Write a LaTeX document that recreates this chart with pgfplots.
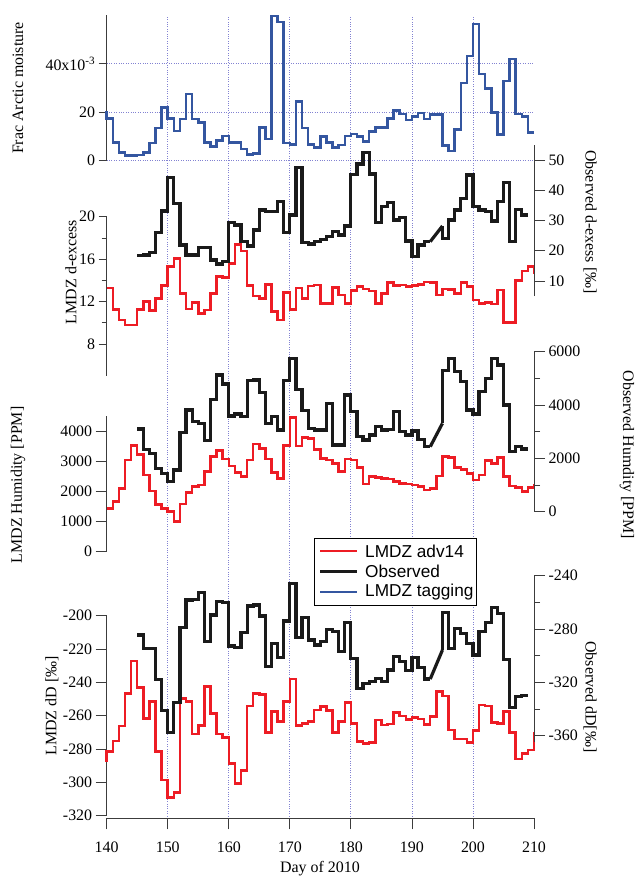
\documentclass[border=0pt]{standalone}
\usepackage{pgfplots}
\pgfplotsset{compat=1.18}
\usepackage{fontspec}
\setmainfont{Liberation Serif}
\setsansfont{Liberation Sans}
\definecolor{cred}{RGB}{237,28,36}
\definecolor{cblue}{RGB}{52,86,160}
\definecolor{cblack}{RGB}{26,26,26}
\definecolor{cgrid}{RGB}{130,130,210}
\definecolor{caxis}{RGB}{60,60,60}
\pgfplotsset{
 base/.style={scale only axis, width=427.3bp, xmin=140, xmax=210, clip=false, anchor=south west,
   /pgf/number format/assume math mode=true, /pgf/number format/1000 sep={},
   tick label style={font=\fontsize{16}{16}\selectfont},
   axis line style={caxis, line width=0.8bp}, tick style={caxis, line width=0.8bp}, tick align=outside,
   major tick length=11bp, minor tick length=6bp},
 redl/.style={const plot, cred, line width=2.5bp, line join=miter},
 blackl/.style={const plot, cblack, line width=3.2bp, line join=miter},
 blackd/.style={sharp plot, cblack, line width=3.2bp},
 bluel/.style={const plot, cblue, line width=2.5bp, line join=miter},
}
\begin{document}
\begin{tikzpicture}
\useasboundingbox (0,0) rectangle (637bp,877bp);
% vertical grid
\begin{axis}[base, at={(106.7bp,58.7bp)}, height=803.3bp, ymin=0, ymax=1,
  axis line style={draw=none}, xtick={150,160,...,200}, xticklabels={}, ytick=\empty,
  major tick length=0pt, xmajorgrids, major grid style={cgrid, dotted, line width=0.8bp}]
\end{axis}
% x axis
\begin{axis}[base, at={(106.7bp,58.7bp)}, height=10bp, ymin=0, ymax=1,
  axis x line*=bottom, axis y line=none, xtick={140,150,...,210},
  xticklabel style={yshift=-9bp}]
\end{axis}
% panel 1 blue
\begin{axis}[base, at={(106.7bp,716.3bp)}, height=145.2bp, ymin=0, ymax=60,
  axis x line=none, axis y line*=left, ytick={0,20,40}, yticklabels={0,20,{40x10\textsuperscript{-3}}},
  major tick length=8bp,
  ymajorgrids, major grid style={cgrid, dotted, line width=0.8bp}]
\addplot[bluel] coordinates {(140,20.5)(140,17.5)(141,7.6)(142,3.3)(143,2.1)(144,2.1)(145,2.3)(146,3.3)(147,7.4)(148,13.6)(149,21.9)(150,17.5)(151,12.3)(152,17.2)(153,27.5)(154,17.2)(155,15.8)(156,7.6)(157,5.8)(158,8.3)(159,10.3)(160,7.6)(161,7.6)(162,4.8)(163,2.6)(164,3.0)(165,13.8)(166,9.0)(167,59.8)(168,57.4)(169,7.4)(170,6.7)(171,24.4)(172,13.6)(173,6.7)(174,5.5)(175,9.9)(176,7.6)(177,5.5)(178,6.5)(179,10.3)(180,11.0)(181,9.9)(182,7.9)(183,12.0)(184,13.8)(185,13.8)(186,17.5)(187,20.7)(188,19.3)(189,16.8)(190,18.2)(191,19.8)(192,17.2)(193,19.1)(194,19.1)(195,6.2)(196,4.0)(197,12.9)(198,32.2)(199,43.3)(200,56.5)(201,35.8)(202,29.9)(203,20.0)(204,10.9)(205,32.9)(206,42.0)(207,19.3)(208,18.2)(209,11.6)(210,11.6)};
\end{axis}
% panel 2 left red
\begin{axis}[base, at={(106.7bp,501.1bp)}, height=159.2bp, ymin=5, ymax=20,
  axis x line=none, axis y line*=left, ytick={8,12,16,20}, minor y tick num=1,
  major tick length=8bp, minor tick length=5bp]
\addplot[redl] coordinates {(140,13.3)(141,11.27)(142,10.26)(143,9.79)(144,9.79)(145,11.27)(146,11.99)(147,11.14)(148,12.3)(149,13.5)(150,15.29)(151,16.07)(152,12.77)(153,11.3)(154,11.93)(155,10.89)(156,11.2)(157,12.77)(158,14.35)(159,14.28)(160,15.6)(161,17.39)(162,16.76)(163,13.5)(164,12.55)(165,12.3)(166,13.62)(167,11.05)(168,10.26)(169,12.87)(170,11.27)(171,13.3)(172,12.3)(173,13.45)(174,13.56)(175,11.83)(176,11.83)(177,13.34)(178,12.62)(179,11.83)(180,13.03)(181,13.4)(182,13.18)(183,13.0)(184,11.83)(185,12.77)(186,13.78)(187,13.5)(188,13.56)(189,13.4)(190,13.5)(191,13.62)(192,13.87)(193,13.78)(194,12.62)(195,13.18)(196,13.15)(197,12.77)(198,13.81)(199,13.4)(200,12.15)(201,11.83)(202,11.93)(203,11.77)(204,13.09)(205,10.04)(206,10.04)(207,13.97)(208,14.88)(209,15.29)(210,14.56)};
\end{axis}
% panel 2 right black
\begin{axis}[base, at={(106.7bp,580.9bp)}, height=151.25bp, ymin=5, ymax=55,
  axis x line=none, axis y line*=right, ytick={10,20,...,50}]
\addplot[blackl] coordinates {(145,18.38)(146,18.6)(147,19.48)(148,26.09)(149,33.14)(150,44.27)(151,35.67)(152,21.9)(153,18.6)(154,18.6)(155,21.13)(156,21.13)(157,16.94)(158,15.62)(159,16.39)(160,29.39)(161,28.51)(162,23.0)(163,21.57)(164,26.86)(165,33.47)(166,32.92)(167,32.92)(168,36.23)(169,26.09)(170,31.82)(171,47.58)(172,22.67)(173,22.23)(174,23.0)(175,23.77)(176,24.65)(177,26.3)(178,25.2)(179,28.18)(180,45.26)(181,48.68)(182,52.5)(183,45.37)(184,29.4)(185,34.57)(186,35.9)(187,30.17)(188,31.05)(189,23.22)(190,18.04)(191,21.9)(192,23.0)(193,23.0)};
\addplot[blackd] coordinates {(193,23.0)(195,28.18)};
\addplot[blackl] coordinates {(195,28.18)(195,24.1)(196,30.17)(197,33.47)(198,37.33)(199,45.04)(200,34.57)(201,33.47)(202,32.92)(203,29.83)(204,36.23)(205,42.62)(206,23.0)(207,33.69)(208,31.82)(209,31.82)};
\end{axis}
% panel 3 left red
\begin{axis}[base, at={(106.7bp,325.3bp)}, height=135.7bp, ymin=0, ymax=4500,
  axis x line=none, axis y line*=left, ytick={0,1000,...,4000}, scaled y ticks=false]
\addplot[redl] coordinates {(140,1437)(141,1658)(142,2100)(143,3039)(144,3514)(145,3227)(146,2542)(147,2011)(148,1569)(149,1437)(150,1326)(151,995)(152,1580)(153,1967)(154,2155)(155,2210)(156,2652)(157,3149)(158,3348)(159,3072)(160,2840)(161,2619)(162,2486)(163,3039)(164,3569)(165,3426)(166,3072)(167,2630)(168,2431)(169,3514)(170,4453)(171,3503)(172,3790)(173,3757)(174,3392)(175,3094)(176,3039)(177,2928)(178,2652)(179,3072)(180,3039)(181,2796)(182,2243)(183,2486)(184,2453)(185,2431)(186,2409)(187,2321)(188,2265)(189,2243)(190,2210)(191,2155)(192,2044)(193,2100)(194,2508)(195,3149)(196,3127)(197,2785)(198,2729)(199,2597)(200,2376)(201,2542)(202,3017)(203,2928)(204,3116)(205,2486)(206,2177)(207,2133)(208,1989)(209,2122)(210,2243)};
\end{axis}
% panel 3 right black
\begin{axis}[base, at={(106.7bp,365.3bp)}, height=160bp, ymin=0, ymax=6000,
  axis x line=none, axis y line*=right, ytick={0,2000,4000,6000}, minor y tick num=1, scaled y ticks=false]
\addplot[blackl] coordinates {(145,3100)(146,2338)(147,2188)(148,1625)(149,1438)(150,1125)(151,1563)(152,2963)(153,3813)(154,3375)(155,3313)(156,2663)(157,4213)(158,5125)(159,4788)(160,3588)(161,3663)(162,3563)(163,4913)(164,4938)(165,4463)(166,3313)(167,3563)(168,3063)(169,4913)(170,5750)(171,4588)(172,3788)(173,3125)(174,3063)(175,3063)(176,4063)(177,2500)(178,2500)(179,4375)(180,3750)(181,2813)(182,2688)(183,2875)(184,3188)(185,3063)(186,3088)(187,3750)(188,3000)(189,2875)(190,3025)(191,2713)(192,2438)(193,2438)};
\addplot[blackd] coordinates {(193,2438)(195,3313)};
\addplot[blackl] coordinates {(195,3313)(195,5300)(196,5750)(197,5250)(198,4875)(199,3813)(200,3663)(201,4500)(202,5000)(203,5750)(204,5500)(205,4000)(206,2250)(207,2438)(208,2350)(209,2350)};
\end{axis}
% panel 4 left red
\begin{axis}[base, at={(106.7bp,61.3bp)}, height=200bp, ymin=-320, ymax=-200,
  axis x line=none, axis y line*=left, ytick={-320,-300,...,-200}]
\addplot[redl] coordinates {(140,-287.6)(140,-281.6)(141,-275.2)(142,-266.2)(143,-246.6)(144,-227.2)(145,-243)(146,-261.6)(147,-251.6)(148,-281.6)(149,-298.6)(150,-309.2)(151,-306.2)(152,-249.6)(153,-251.6)(154,-271)(155,-266)(156,-242.6)(157,-258.6)(158,-271)(159,-273.2)(160,-288.6)(161,-300.6)(162,-293)(163,-254.2)(164,-246.6)(165,-247.2)(166,-270.2)(167,-257.6)(168,-263.6)(169,-251.6)(170,-238)(171,-266)(172,-264.6)(173,-263.6)(174,-256.6)(175,-254.6)(176,-257)(177,-270)(178,-263.6)(179,-252)(180,-264.6)(181,-275.6)(182,-276.6)(183,-276.2)(184,-262.6)(185,-265.6)(186,-265)(187,-258)(188,-260.2)(189,-262.2)(190,-261)(191,-262)(192,-265.2)(193,-260.6)(194,-245.6)(195,-248.2)(196,-268.6)(197,-274)(198,-274)(199,-276.2)(200,-269)(201,-253.6)(202,-254.2)(203,-264)(204,-264.6)(205,-257.6)(206,-270.2)(207,-286)(208,-282.6)(209,-280.6)(210,-269.6)};
\end{axis}
% panel 4 right black
\begin{axis}[base, at={(106.7bp,134.6bp)}, height=166.7bp, ymin=-365, ymax=-240,
  axis x line=none, axis y line*=right, ytick={-360,-320,-280,-240}, minor y tick num=1]
\addplot[blackl] coordinates {(145,-284.5)(146,-294.5)(147,-294.5)(148,-317.75)(149,-341.25)(150,-357.75)(151,-335.25)(152,-278.75)(153,-258.25)(154,-257.75)(155,-252.5)(156,-289.5)(157,-269.5)(158,-259.5)(159,-260.25)(160,-292.75)(161,-293.75)(162,-282.75)(163,-262.75)(164,-262)(165,-270.25)(166,-308.25)(167,-290.75)(168,-301.25)(169,-274)(170,-245.75)(171,-286.5)(172,-271.5)(173,-288.25)(174,-292)(175,-289.5)(176,-280.25)(177,-282)(178,-297)(179,-275.25)(180,-302)(181,-324.5)(182,-320.75)(183,-319.5)(184,-317)(185,-319.5)(186,-310.75)(187,-300.75)(188,-304.5)(189,-311.25)(190,-301.25)(191,-308.75)(192,-317.5)(193,-317.5)};
\addplot[blackd] coordinates {(193,-317.5)(195,-295.75)};
\addplot[blackl] coordinates {(195,-295.75)(195,-267.5)(196,-294.5)(197,-279.5)(198,-283.25)(199,-290.75)(200,-299.5)(201,-282)(202,-275.25)(203,-263.75)(204,-268.25)(205,-302.75)(206,-339)(207,-330.75)(208,-330)(209,-330)};
\end{axis}
% legend
\draw[black, line width=0.6bp, fill=white] (314bp,272bp) rectangle (476bp,339bp);
\draw[cred, line width=2.5bp] (320bp,326bp) -- (357bp,326bp);
\draw[cblack, line width=3.5bp] (320bp,305.5bp) -- (357bp,305.5bp);
\draw[cblue, line width=2.5bp] (320bp,285bp) -- (357bp,285bp);
\begin{scope}[every node/.style={anchor=west, inner sep=0pt, font=\sffamily\fontsize{17.3}{20}\selectfont}]
\node at (365bp,326bp) {LMDZ adv14};
\node at (365bp,305.5bp) {Observed};
\node at (365bp,285bp) {LMDZ tagging};
\end{scope}
% axis labels
\begin{scope}[every node/.style={font=\fontsize{16}{16}\selectfont}]
\node[rotate=90] at (18bp,789bp) {Frac Arctic moisture};
\node[rotate=90] at (71bp,605bp) {LMDZ d-excess};
\node[rotate=90] at (18bp,392bp) {LMDZ Humidity [PPM]};
\node[rotate=90] at (52bp,171bp) {LMDZ dD [‰]};
\node[rotate=-90] at (590bp,655bp) {Observed d-exess [‰]};
\node[rotate=-90] at (627bp,422bp) {Observed Humdity [PPM]};
\node[rotate=-90] at (590bp,180bp) {Observed dD[‰]};
\node at (320bp,8.5bp) {Day of 2010};
\end{scope}
\end{tikzpicture}
\end{document}
